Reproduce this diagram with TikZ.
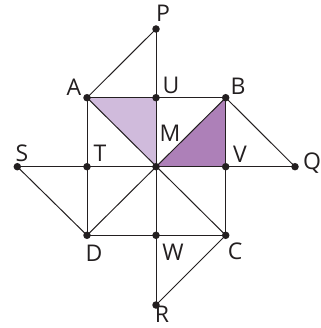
\documentclass[tikz,border=0pt]{standalone}
\usepackage{fontspec}
\setmainfont{Open Sans}
\definecolor{lightpurple}{HTML}{D0BBDC}
\definecolor{darkpurple}{HTML}{AD80B8}
\definecolor{ink}{HTML}{231F20}
\begin{document}
\begin{tikzpicture}[x=1pt,y=-1pt,
  pt/.style={circle,fill=ink,inner sep=0pt,minimum size=7.5pt},
  lbl/.style={text=ink,font=\fontsize{23}{23}\selectfont,inner sep=0pt},
  seg/.style={draw=ink,line width=1pt}]
\useasboundingbox (0,0) rectangle (320,328);
\coordinate (P) at (156,29);
\coordinate (A) at (87,97.7);
\coordinate (U) at (156,97.7);
\coordinate (B) at (225.7,97.7);
\coordinate (S) at (17.3,166.7);
\coordinate (T) at (87,166.7);
\coordinate (M) at (156,166.7);
\coordinate (V) at (225.7,166.7);
\coordinate (Q) at (295,166.7);
\coordinate (D) at (87,235.3);
\coordinate (W) at (156,235.3);
\coordinate (C) at (225.7,235.3);
\coordinate (R) at (156,305);
\fill[lightpurple] (A) -- (U) -- (M) -- cycle;
\fill[darkpurple] (M) -- (B) -- (V) -- cycle;
\draw[seg] (A) -- (B) -- (C) -- (D) -- cycle;
\draw[seg] (P) -- (R);
\draw[seg] (S) -- (Q);
\draw[seg] (A) -- (C);
\draw[seg] (B) -- (D);
\draw[seg] (P) -- (A);
\draw[seg] (B) -- (Q);
\draw[seg] (S) -- (D);
\draw[seg] (C) -- (R);
\foreach \p in {P,A,U,B,S,T,M,V,Q,D,W,C,R} \node[pt] at (\p) {};
\node[lbl] (lP) at (163,13) {P};
\node[lbl] (lA) at (74,87) {A};
\node[lbl] (lU) at (171,85) {U};
\node[lbl] (lB) at (238,86) {B};
\node[lbl] (lM) at (170,133) {M};
\node[lbl] (lT) at (100,153) {T};
\node[lbl] (lS) at (22,153) {S};
\node[lbl] (lV) at (240,154) {V};
\node[lbl] (lQ) at (312,163) {Q};
\node[lbl] (lD) at (94,253) {D};
\node[lbl] (lW) at (173,252) {W};
\node[lbl] (lC) at (235,251) {C};
\node[lbl] (lR) at (162,314) {R};
\end{tikzpicture}
\end{document}
